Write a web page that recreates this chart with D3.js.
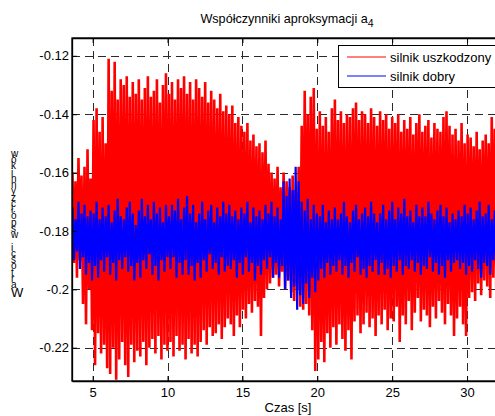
<!DOCTYPE html>
<html>
<head>
<meta charset="utf-8">
<script src="https://cdn.jsdelivr.net/npm/d3@7"></script>
<style>
  body { margin: 0; background: #fff; }
  text { font-family: "Liberation Sans", Arial, sans-serif; fill: #000; }
</style>
</head>
<body>
<svg id="chart"></svg>
<script>
// sample window in seconds (first / last sample)
let tStart = 3.65;
let tEnd = 31.85;

// silnik uszkodzony: local maxima / minima, one pair every 0.2 s
let redHigh = [
  -0.160, -0.163, -0.155, -0.161, -0.158, -0.152, -0.162,
  -0.142, -0.138, -0.146, -0.141, -0.150,
  -0.121, -0.132, -0.122, -0.135, -0.128,
  -0.130, -0.127, -0.134, -0.129, -0.133,
  -0.128, -0.135, -0.131, -0.127, -0.134,
  -0.132, -0.128, -0.136, -0.130, -0.126,
  -0.133, -0.129, -0.135, -0.128, -0.131,
  -0.127, -0.133, -0.129, -0.135, -0.128,
  -0.131, -0.134, -0.129, -0.136, -0.132,
  -0.135, -0.138, -0.133, -0.139, -0.137,
  -0.140, -0.137, -0.143, -0.141, -0.144,
  -0.146, -0.143, -0.149, -0.147, -0.151,
  -0.150, -0.153, -0.149, -0.157, -0.160,
  -0.162, -0.158, -0.165, -0.160, -0.163,
  -0.165, -0.161, -0.166, -0.158, -0.144,
  -0.132, -0.140, -0.134, -0.131, -0.145,
  -0.139, -0.144, -0.141, -0.146, -0.138,
  -0.135, -0.142, -0.139, -0.143, -0.140,
  -0.141, -0.138, -0.136, -0.142, -0.139,
  -0.140, -0.143, -0.138, -0.141, -0.144,
  -0.139, -0.142, -0.140, -0.145, -0.141,
  -0.143, -0.140, -0.146, -0.142, -0.145,
  -0.141, -0.147, -0.143, -0.140, -0.146,
  -0.144, -0.142, -0.148, -0.143, -0.145,
  -0.146, -0.141, -0.139, -0.144, -0.147,
  -0.145, -0.149, -0.143, -0.150, -0.147,
  -0.148, -0.151, -0.146, -0.152, -0.149,
  -0.147, -0.150, -0.141, -0.145
];
let redLow = [
  -0.191, -0.196, -0.190, -0.205, -0.212, -0.200, -0.214,
  -0.226, -0.215, -0.222, -0.219, -0.227,
  -0.229, -0.220, -0.231, -0.224, -0.218,
  -0.226, -0.230, -0.219, -0.225, -0.221,
  -0.223, -0.218, -0.226, -0.220, -0.217,
  -0.222, -0.216, -0.224, -0.219, -0.221,
  -0.218, -0.223, -0.216, -0.221, -0.219,
  -0.224, -0.217, -0.222, -0.219, -0.223,
  -0.218, -0.214, -0.219, -0.213, -0.216,
  -0.215, -0.212, -0.217, -0.213, -0.210,
  -0.212, -0.216, -0.209, -0.213, -0.207,
  -0.210, -0.205, -0.208, -0.204, -0.206,
  -0.216, -0.203, -0.200, -0.198, -0.196,
  -0.195, -0.199, -0.194, -0.200, -0.197,
  -0.201, -0.204, -0.200, -0.206, -0.207,
  -0.205, -0.209, -0.214, -0.228, -0.224,
  -0.218, -0.225, -0.215, -0.220, -0.213,
  -0.219, -0.212, -0.217, -0.221, -0.214,
  -0.224, -0.211, -0.209, -0.215, -0.212,
  -0.208, -0.213, -0.210, -0.216, -0.209,
  -0.212, -0.207, -0.214, -0.210, -0.211,
  -0.206, -0.218, -0.209, -0.212, -0.204,
  -0.214, -0.208, -0.203, -0.211, -0.207,
  -0.209, -0.213, -0.206, -0.210, -0.204,
  -0.208, -0.212, -0.205, -0.209, -0.216,
  -0.210, -0.206, -0.212, -0.216, -0.203,
  -0.201, -0.204, -0.198, -0.202, -0.197,
  -0.199, -0.203, -0.196, -0.200
];

// silnik dobry
let blueHigh = [
  -0.172, -0.176, -0.170, -0.174, -0.171, -0.175, -0.173,
  -0.174, -0.170, -0.176, -0.172, -0.175,
  -0.171, -0.177, -0.173, -0.169, -0.175,
  -0.176, -0.172, -0.170, -0.174, -0.178,
  -0.173, -0.169, -0.175, -0.171, -0.176,
  -0.170, -0.174, -0.172, -0.177, -0.171,
  -0.175, -0.171, -0.173, -0.169, -0.176,
  -0.172, -0.168, -0.174, -0.171, -0.177,
  -0.174, -0.170, -0.176, -0.173, -0.171,
  -0.177, -0.172, -0.175, -0.170, -0.174,
  -0.171, -0.175, -0.173, -0.176, -0.172,
  -0.174, -0.170, -0.177, -0.172, -0.175,
  -0.173, -0.176, -0.171, -0.174, -0.170,
  -0.175, -0.172, -0.176, -0.163, -0.168,
  -0.162, -0.166, -0.158, -0.163, -0.170,
  -0.173, -0.169, -0.176, -0.171, -0.174,
  -0.175, -0.171, -0.177, -0.173, -0.176,
  -0.172, -0.176, -0.174, -0.170, -0.175,
  -0.177, -0.173, -0.171, -0.176, -0.174,
  -0.172, -0.175, -0.170, -0.174, -0.177,
  -0.174, -0.171, -0.176, -0.173, -0.170,
  -0.176, -0.172, -0.174, -0.169, -0.175,
  -0.173, -0.177, -0.171, -0.175, -0.172,
  -0.175, -0.170, -0.174, -0.176, -0.173,
  -0.171, -0.175, -0.172, -0.177, -0.174,
  -0.176, -0.173, -0.175, -0.171, -0.174,
  -0.172, -0.176, -0.173, -0.170, -0.175,
  -0.174, -0.171, -0.176, -0.173
];
let blueLow = [
  -0.190, -0.187, -0.193, -0.189, -0.195, -0.191, -0.197,
  -0.192, -0.196, -0.190, -0.194, -0.189,
  -0.195, -0.191, -0.197, -0.190, -0.193,
  -0.189, -0.194, -0.192, -0.197, -0.191,
  -0.196, -0.190, -0.193, -0.188, -0.195,
  -0.192, -0.197, -0.190, -0.194, -0.189,
  -0.193, -0.189, -0.196, -0.191, -0.195,
  -0.190, -0.195, -0.192, -0.197, -0.191,
  -0.196, -0.190, -0.194, -0.188, -0.193,
  -0.191, -0.195, -0.189, -0.194, -0.192,
  -0.193, -0.190, -0.196, -0.191, -0.195,
  -0.189, -0.194, -0.191, -0.197, -0.192,
  -0.195, -0.190, -0.193, -0.189, -0.196,
  -0.191, -0.196, -0.192, -0.200, -0.197,
  -0.203, -0.199, -0.207, -0.202, -0.205,
  -0.198, -0.203, -0.196, -0.201, -0.197,
  -0.193, -0.196, -0.191, -0.195, -0.192,
  -0.194, -0.190, -0.195, -0.192, -0.196,
  -0.191, -0.194, -0.189, -0.195, -0.193,
  -0.196, -0.192, -0.194, -0.190, -0.195,
  -0.191, -0.195, -0.193, -0.196, -0.192,
  -0.194, -0.190, -0.195, -0.192, -0.193,
  -0.190, -0.194, -0.191, -0.195, -0.192,
  -0.193, -0.189, -0.194, -0.191, -0.195,
  -0.192, -0.196, -0.190, -0.194, -0.191,
  -0.190, -0.193, -0.191, -0.195, -0.192,
  -0.194, -0.190, -0.193, -0.196, -0.191,
  -0.192, -0.195, -0.190, -0.194
];

let xTicks = [5, 10, 15, 20, 25, 30];
let yTicks = [-0.22, -0.2, -0.18, -0.16, -0.14, -0.12];
let seriesNames = ["silnik uszkodzony", "silnik dobry"];
let seriesColors = ["#ff0000", "#0000ff"];

let w = 495;
let h = 416;
let plotLeft = 72, plotTop = 38, plotRight = 497, plotBottom = 381;

let svg = d3.select('#chart')
  .attr('width', w)
  .attr('height', h);

let xScale = d3.scaleLinear()
  .domain([3.62, 32.0])
  .range([plotLeft, plotRight]);

let yScale = d3.scaleLinear()
  .domain([-0.2314, -0.1139])
  .range([plotBottom, plotTop]);

// turn max/min pairs into one zig-zag trace
function zigzag(highs, lows) {
  let idx = d3.scaleLinear().domain([0, highs.length - 1]).range([tStart, tEnd]);
  let half = (tEnd - tStart) / (highs.length - 1) / 2;
  let pts = [];
  highs.forEach((v, i) => {
    pts.push([idx(i), v]);
    pts.push([idx(i) + half, lows[i]]);
  });
  return pts;
}

svg.append('defs').append('clipPath')
  .attr('id', 'plotClip')
  .append('rect')
  .attr('x', plotLeft).attr('y', plotTop)
  .attr('width', plotRight - plotLeft).attr('height', plotBottom - plotTop);

// GRID
let grid = svg.append('g')
  .attr('stroke', '#2a2a2a')
  .attr('stroke-width', 1)
  .attr('stroke-dasharray', '8,5');

grid.selectAll('.vgrid')
  .data(xTicks)
  .enter()
  .append('line')
  .attr('x1', (d) => Math.round(xScale(d)) + 0.5)
  .attr('x2', (d) => Math.round(xScale(d)) + 0.5)
  .attr('y1', plotTop)
  .attr('y2', plotBottom);

grid.selectAll('.hgrid')
  .data(yTicks)
  .enter()
  .append('line')
  .attr('y1', (d) => Math.round(yScale(d)) + 0.5)
  .attr('y2', (d) => Math.round(yScale(d)) + 0.5)
  .attr('x1', plotLeft)
  .attr('x2', plotRight);

// SERIES
let line = d3.line()
  .x((d) => xScale(d[0]))
  .y((d) => yScale(d[1]));

let plot = svg.append('g').attr('clip-path', 'url(#plotClip)');

plot.append('path')
  .attr('d', line(zigzag(redHigh, redLow)))
  .attr('fill', 'none')
  .attr('stroke', seriesColors[0])
  .attr('stroke-width', 2.6);

plot.append('path')
  .attr('d', line(zigzag(blueHigh, blueLow)))
  .attr('fill', 'none')
  .attr('stroke', seriesColors[1])
  .attr('stroke-width', 2.2);

// AXES
let xAxis = d3.axisBottom(xScale)
  .tickValues(xTicks)
  .tickSizeInner(-5)
  .tickSizeOuter(0)
  .tickPadding(7);

let yAxis = d3.axisLeft(yScale)
  .tickValues(yTicks)
  .tickSizeInner(-5)
  .tickSizeOuter(0)
  .tickPadding(3)
  .tickFormat((d) => String(+d.toFixed(2)));

svg.append('g')
  .attr('class', 'xaxis axis')
  .attr('transform', `translate(0, ${plotBottom})`)
  .call(xAxis);

svg.append('g')
  .attr('class', 'yaxis axis')
  .attr('transform', `translate(${plotLeft}, 0)`)
  .call(yAxis);

// ticks along the top edge too
svg.append('g')
  .attr('class', 'axis')
  .attr('transform', `translate(0, ${plotTop})`)
  .call(d3.axisTop(xScale).tickValues(xTicks).tickSizeInner(-5).tickSizeOuter(0).tickFormat(''));

svg.selectAll('.axis text')
  .style('font-size', '13px')
  .style('font-family', '"Liberation Sans", Arial, sans-serif')
  .attr('fill', '#000');
svg.selectAll('.domain').attr('stroke', '#000').attr('stroke-width', 1.3);
svg.selectAll('.tick line').attr('stroke', '#000');

// frame
svg.append('rect')
  .attr('x', plotLeft).attr('y', plotTop)
  .attr('width', plotRight - plotLeft).attr('height', plotBottom - plotTop)
  .attr('fill', 'none')
  .attr('stroke', '#000')
  .attr('stroke-width', 1.3);

// TITLE
let title = svg.append('text')
  .attr('x', 287)
  .attr('y', 23)
  .attr('text-anchor', 'middle')
  .style('font-size', '12.6px')
  .text('Współczynniki aproksymacji a');
title.append('tspan')
  .attr('dy', 4)
  .style('font-size', '10.5px')
  .text('4');

svg.append('text')
  .attr('x', 288)
  .attr('y', 412)
  .attr('text-anchor', 'middle')
  .style('font-size', '13px')
  .text('Czas [s]');

// y label: one text running upward, glyphs kept upright and packed tight
let yLabel = 'Wartości współczynników';
let glyphPos = yLabel.split('').map((c, i) => i === 0 ? -297 : -(288 - (i - 1) * 6.25));
let yText = svg.append('text')
  .attr('transform', 'translate(11,0) rotate(-90)')
  .attr('x', glyphPos.join(' '))
  .attr('y', 0)
  .attr('rotate', 90)
  .style('font-size', '10px');
yText.append('tspan')
  .style('font-size', '13px')
  .text(yLabel[0]);
yText.append('tspan')
  .text(yLabel.slice(1));

// LEGEND
let legend = svg.append('g');
legend.append('rect')
  .attr('x', 338.5).attr('y', 45.5)
  .attr('width', 170).attr('height', 42)
  .attr('fill', '#fff')
  .attr('stroke', '#000')
  .attr('stroke-width', 1);

seriesNames.forEach((name, i) => {
  let ly = 57 + i * 19;
  legend.append('line')
    .attr('x1', 347).attr('x2', 386)
    .attr('y1', ly).attr('y2', ly)
    .attr('stroke', seriesColors[i])
    .attr('stroke-width', 1);
  legend.append('text')
    .attr('x', 390)
    .attr('y', ly + 4.5)
    .style('font-size', '13px')
    .text(name);
});
</script>
</body>
</html>
